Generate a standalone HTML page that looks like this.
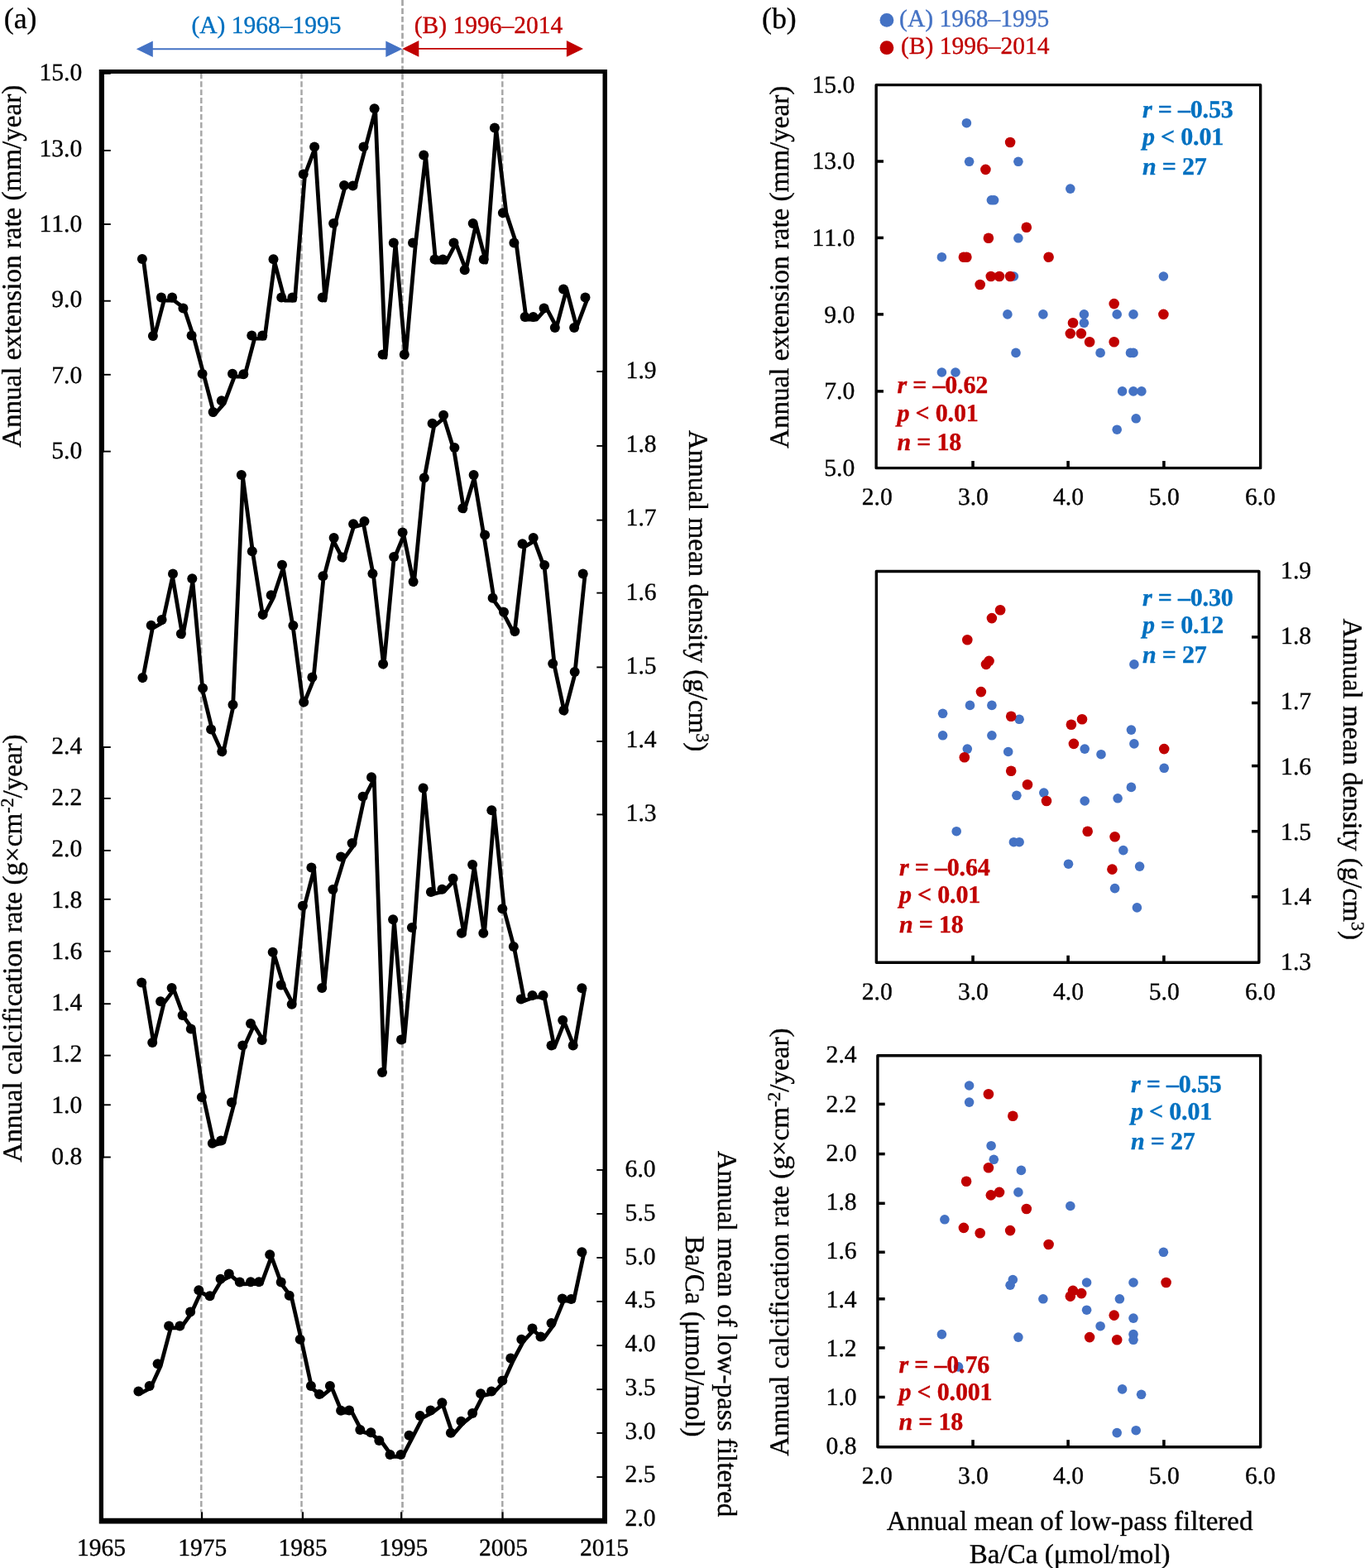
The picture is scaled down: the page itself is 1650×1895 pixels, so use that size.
<!DOCTYPE html>
<html lang="en">
<head>
<meta charset="utf-8">
<title>Coral growth and Ba/Ca time series</title>
<style>
html,body{margin:0;padding:0;background:#fff;}
body{width:1650px;height:1895px;overflow:hidden;}
svg{display:block;font-family:"Liberation Serif", "DejaVu Serif", serif;fill:#000;}
text{white-space:pre;font-kerning:none;font-variant-ligatures:none;stroke-width:0.35px;text-rendering:geometricPrecision;}
</style>
</head>
<body>
<svg role="img" aria-label="Coral growth parameters and Ba/Ca: time series and scatter plots" width="1650" height="1895" viewBox="0 0 1650 1895">
<rect width="1650" height="1895" fill="#fff"/>
<g id="panel-a">
<line x1="243.3" y1="88.3" x2="243.3" y2="1827.5" stroke="#A6A6A6" stroke-width="2.45" stroke-dasharray="6.92 2.998"/>
<line x1="364.5" y1="88.3" x2="364.5" y2="1827.5" stroke="#A6A6A6" stroke-width="2.45" stroke-dasharray="6.92 2.998"/>
<line x1="486.5" y1="0.05" x2="486.5" y2="1827.5" stroke="#A6A6A6" stroke-width="2.7" stroke-dasharray="6.92 2.998"/>
<line x1="607.3" y1="88.3" x2="607.3" y2="1827.5" stroke="#A6A6A6" stroke-width="2.45" stroke-dasharray="6.92 2.998"/>
<line x1="124" y1="88.85" x2="133.8" y2="88.85" stroke="#000" stroke-width="1.9"/>
<line x1="124" y1="181.9" x2="133.8" y2="181.9" stroke="#000" stroke-width="1.9"/>
<line x1="124" y1="271" x2="133.8" y2="271" stroke="#000" stroke-width="1.9"/>
<line x1="124" y1="363.7" x2="133.8" y2="363.7" stroke="#000" stroke-width="1.9"/>
<line x1="124" y1="452.8" x2="133.8" y2="452.8" stroke="#000" stroke-width="1.9"/>
<line x1="124" y1="545.6" x2="133.8" y2="545.6" stroke="#000" stroke-width="1.9"/>
<line x1="124" y1="903" x2="133.8" y2="903" stroke="#000" stroke-width="1.9"/>
<line x1="124" y1="964.9" x2="133.8" y2="964.9" stroke="#000" stroke-width="1.9"/>
<line x1="124" y1="1027.9" x2="133.8" y2="1027.9" stroke="#000" stroke-width="1.9"/>
<line x1="124" y1="1086.8" x2="133.8" y2="1086.8" stroke="#000" stroke-width="1.9"/>
<line x1="124" y1="1149.7" x2="133.8" y2="1149.7" stroke="#000" stroke-width="1.9"/>
<line x1="124" y1="1213.2" x2="133.8" y2="1213.2" stroke="#000" stroke-width="1.9"/>
<line x1="124" y1="1275.6" x2="133.8" y2="1275.6" stroke="#000" stroke-width="1.9"/>
<line x1="124" y1="1335.3" x2="133.8" y2="1335.3" stroke="#000" stroke-width="1.9"/>
<line x1="124" y1="1398.5" x2="133.8" y2="1398.5" stroke="#000" stroke-width="1.9"/>
<line x1="721.3" y1="449" x2="730" y2="449" stroke="#000" stroke-width="1.9"/>
<line x1="721.3" y1="538.9" x2="730" y2="538.9" stroke="#000" stroke-width="1.9"/>
<line x1="721.3" y1="628.6" x2="730" y2="628.6" stroke="#000" stroke-width="1.9"/>
<line x1="721.3" y1="716.6" x2="730" y2="716.6" stroke="#000" stroke-width="1.9"/>
<line x1="721.3" y1="806.4" x2="730" y2="806.4" stroke="#000" stroke-width="1.9"/>
<line x1="721.3" y1="896" x2="730" y2="896" stroke="#000" stroke-width="1.9"/>
<line x1="721.3" y1="984.4" x2="730" y2="984.4" stroke="#000" stroke-width="1.9"/>
<line x1="721.3" y1="1414" x2="730" y2="1414" stroke="#000" stroke-width="1.9"/>
<line x1="721.3" y1="1467" x2="730" y2="1467" stroke="#000" stroke-width="1.9"/>
<line x1="721.3" y1="1520" x2="730" y2="1520" stroke="#000" stroke-width="1.9"/>
<line x1="721.3" y1="1572.9" x2="730" y2="1572.9" stroke="#000" stroke-width="1.9"/>
<line x1="721.3" y1="1626.1" x2="730" y2="1626.1" stroke="#000" stroke-width="1.9"/>
<line x1="721.3" y1="1679.2" x2="730" y2="1679.2" stroke="#000" stroke-width="1.9"/>
<line x1="721.3" y1="1731.9" x2="730" y2="1731.9" stroke="#000" stroke-width="1.9"/>
<line x1="721.3" y1="1785.1" x2="730" y2="1785.1" stroke="#000" stroke-width="1.9"/>
<line x1="244" y1="1827.3" x2="244" y2="1836" stroke="#000" stroke-width="2.3"/>
<line x1="365.9" y1="1827.3" x2="365.9" y2="1836" stroke="#000" stroke-width="2.3"/>
<line x1="485.2" y1="1827.3" x2="485.2" y2="1836" stroke="#000" stroke-width="2.3"/>
<line x1="607.5" y1="1827.3" x2="607.5" y2="1836" stroke="#000" stroke-width="2.3"/>
<path d="M119.75 84H734V1841.6H119.75Z M125 88.9V1834.8H728.5V88.9Z" fill="#000" fill-rule="evenodd"/>
<path d="M124 88H126V546.6H124Z M124 902H126V1399.5H124Z M728 447.6H730V985.4H728Z M728 1413H730V1838H728Z" fill="#000"/>
<polyline points="173.84,317.15 186.01,409.19 198.18,363.17 210.34,363.17 222.51,372.37 234.68,409.19 246.85,455.21 259.02,501.23 271.18,487.42 283.35,455.21 295.52,455.21 307.69,409.19 319.86,409.19 332.02,317.15 344.19,363.17 356.36,363.17 368.53,211.3 380.7,179.09 392.86,363.17 405.03,271.13 417.2,225.11 429.37,225.11 441.54,179.09 453.7,133.07 465.87,432.2 478.04,294.14 490.21,432.2 502.38,294.14 514.54,188.29 526.71,317.15 538.88,317.15 551.05,294.14 563.22,326.35 575.38,271.13 587.55,317.15 599.72,156.08 611.89,257.32 624.06,294.14 636.22,386.18 648.39,386.18 660.56,372.37 672.73,395.38 684.9,349.36 697.06,395.38 709.23,363.17" fill="none" stroke="#000" stroke-width="4.8" stroke-linejoin="round" stroke-linecap="round"/>
<g fill="#000"><circle cx="171.9" cy="313" r="6"/><circle cx="184.9" cy="406" r="6"/><circle cx="194.9" cy="359.4" r="6"/><circle cx="208.1" cy="359.4" r="6"/><circle cx="221.4" cy="372.4" r="6"/><circle cx="231.6" cy="405.6" r="6"/><circle cx="244.6" cy="451.8" r="6"/><circle cx="257.6" cy="498" r="6"/><circle cx="267.8" cy="484.3" r="6"/><circle cx="281" cy="451.8" r="6"/><circle cx="294.3" cy="452.3" r="6"/><circle cx="304.3" cy="405.6" r="6"/><circle cx="317.2" cy="405.6" r="6"/><circle cx="330.5" cy="313.2" r="6"/><circle cx="340.2" cy="359.4" r="6"/><circle cx="353.4" cy="359.4" r="6"/><circle cx="366.7" cy="210.6" r="6"/><circle cx="380.1" cy="177.4" r="6"/><circle cx="389.7" cy="359.4" r="6"/><circle cx="403.1" cy="270" r="6"/><circle cx="416" cy="223.9" r="6"/><circle cx="426.5" cy="224.4" r="6"/><circle cx="439.5" cy="177.4" r="6"/><circle cx="452.6" cy="131.2" r="6"/><circle cx="462.6" cy="428.6" r="6"/><circle cx="475.8" cy="293.5" r="6"/><circle cx="488.8" cy="428.6" r="6"/><circle cx="499" cy="293.5" r="6"/><circle cx="512.2" cy="187.4" r="6"/><circle cx="525.5" cy="313.5" r="6"/><circle cx="535.3" cy="313.5" r="6"/><circle cx="548.5" cy="293.5" r="6"/><circle cx="561.7" cy="326.2" r="6"/><circle cx="571.7" cy="270" r="6"/><circle cx="584.7" cy="313.5" r="6"/><circle cx="597.9" cy="154.4" r="6"/><circle cx="607.9" cy="257.3" r="6"/><circle cx="621.4" cy="293.5" r="6"/><circle cx="634.6" cy="382.9" r="6"/><circle cx="644.6" cy="382.9" r="6"/><circle cx="657.6" cy="372.4" r="6"/><circle cx="670.8" cy="396.1" r="6"/><circle cx="681.1" cy="349.4" r="6"/><circle cx="694.1" cy="396.1" r="6"/><circle cx="707.5" cy="359.4" r="6"/></g>
<polyline points="172.16,822.7 184.31,759.3 196.46,752.5 208.62,697 220.77,769.5 232.92,702.9 245.07,835.4 257.22,885.1 269.38,911.8 281.53,855.4 293.68,577.7 305.83,669.9 317.98,746.3 330.14,722.8 342.29,686.3 354.44,759.5 366.59,852.2 378.74,822.2 390.9,699.8 403.05,653.6 415.2,677.1 427.35,636.9 439.5,633.6 451.66,696.9 463.81,806 475.96,676.5 488.11,647 500.26,706.6 512.42,581 524.57,515.3 536.72,505.3 548.87,544.5 561.02,617.9 573.18,577.7 585.33,650.1 597.48,726.3 609.63,743.3 621.78,766.5 633.94,660.9 646.09,653.6 658.24,686.6 670.39,805.7 682.54,862.1 694.7,815.7 706.85,697.1" fill="none" stroke="#000" stroke-width="4.8" stroke-linejoin="round" stroke-linecap="round"/>
<g fill="#000"><circle cx="172.4" cy="819.1" r="6"/><circle cx="182.7" cy="755.7" r="6"/><circle cx="195.6" cy="748.9" r="6"/><circle cx="209" cy="693.4" r="6"/><circle cx="218.9" cy="765.9" r="6"/><circle cx="232.3" cy="699.3" r="6"/><circle cx="245.1" cy="831.8" r="6"/><circle cx="255.1" cy="881.5" r="6"/><circle cx="268.3" cy="908.2" r="6"/><circle cx="281.5" cy="851.8" r="6"/><circle cx="291.8" cy="574.1" r="6"/><circle cx="304.8" cy="666.3" r="6"/><circle cx="317.7" cy="742.7" r="6"/><circle cx="327.7" cy="719.2" r="6"/><circle cx="341" cy="682.7" r="6"/><circle cx="354.4" cy="755.9" r="6"/><circle cx="367.2" cy="848.6" r="6"/><circle cx="377.4" cy="818.6" r="6"/><circle cx="390.4" cy="696.2" r="6"/><circle cx="403.6" cy="650" r="6"/><circle cx="413.6" cy="673.5" r="6"/><circle cx="427.1" cy="633.3" r="6"/><circle cx="440.5" cy="630" r="6"/><circle cx="450.4" cy="693.3" r="6"/><circle cx="463.1" cy="802.4" r="6"/><circle cx="476.1" cy="672.9" r="6"/><circle cx="486.6" cy="643.4" r="6"/><circle cx="499.6" cy="703" r="6"/><circle cx="512.8" cy="577.4" r="6"/><circle cx="522.6" cy="511.7" r="6"/><circle cx="536.1" cy="501.7" r="6"/><circle cx="549.4" cy="540.9" r="6"/><circle cx="559.3" cy="614.3" r="6"/><circle cx="572.6" cy="574.1" r="6"/><circle cx="586.1" cy="646.5" r="6"/><circle cx="595.6" cy="722.7" r="6"/><circle cx="609" cy="739.7" r="6"/><circle cx="622.3" cy="762.9" r="6"/><circle cx="631.5" cy="657.3" r="6"/><circle cx="644.7" cy="650" r="6"/><circle cx="658.2" cy="683" r="6"/><circle cx="668.2" cy="802.1" r="6"/><circle cx="681.4" cy="858.5" r="6"/><circle cx="694.7" cy="812.1" r="6"/><circle cx="704.7" cy="693.5" r="6"/></g>
<polyline points="173.85,1189.7 185.95,1262.1 198.06,1212.4 210.16,1196.1 222.27,1229.1 234.37,1245.8 246.47,1328.2 258.58,1383.9 270.68,1380.7 282.79,1334.5 294.89,1265.6 306.99,1239.1 319.1,1259.1 331.2,1152.9 343.31,1192.6 355.41,1215.9 367.51,1097 379.62,1050.8 391.72,1196.1 403.83,1077.3 415.93,1037.6 428.03,1021.1 440.14,964.9 452.24,941.4 464.35,1298.3 476.45,1113.5 488.55,1258.8 500.66,1123.2 512.76,954.7 524.87,1080.2 536.97,1077 549.07,1064 561.18,1129.9 573.28,1047.3 585.39,1129.9 597.49,981.4 609.59,1100.5 621.7,1146.2 633.8,1209.6 645.91,1205.1 658.01,1205.1 670.11,1265.8 682.22,1235.3 694.32,1265.8 706.43,1196.4" fill="none" stroke="#000" stroke-width="4.8" stroke-linejoin="round" stroke-linecap="round"/>
<g fill="#000"><circle cx="171.2" cy="1187.5" r="6"/><circle cx="184.2" cy="1259.9" r="6"/><circle cx="194.1" cy="1210.2" r="6"/><circle cx="207.6" cy="1193.9" r="6"/><circle cx="220.6" cy="1226.9" r="6"/><circle cx="230.8" cy="1243.6" r="6"/><circle cx="243.8" cy="1326" r="6"/><circle cx="256.8" cy="1381.7" r="6"/><circle cx="267.1" cy="1378.5" r="6"/><circle cx="280" cy="1332.3" r="6"/><circle cx="293.3" cy="1263.4" r="6"/><circle cx="303" cy="1236.9" r="6"/><circle cx="316.7" cy="1256.9" r="6"/><circle cx="329.7" cy="1150.7" r="6"/><circle cx="339.7" cy="1190.4" r="6"/><circle cx="352.7" cy="1213.7" r="6"/><circle cx="365.9" cy="1094.8" r="6"/><circle cx="376.4" cy="1048.6" r="6"/><circle cx="389.2" cy="1193.9" r="6"/><circle cx="402.4" cy="1075.1" r="6"/><circle cx="412.1" cy="1035.4" r="6"/><circle cx="425.6" cy="1018.9" r="6"/><circle cx="438.6" cy="962.7" r="6"/><circle cx="449" cy="939.2" r="6"/><circle cx="462" cy="1296.1" r="6"/><circle cx="475.1" cy="1111.3" r="6"/><circle cx="485" cy="1256.6" r="6"/><circle cx="497.9" cy="1121" r="6"/><circle cx="511.6" cy="952.5" r="6"/><circle cx="520.9" cy="1078" r="6"/><circle cx="534.4" cy="1074.8" r="6"/><circle cx="547.6" cy="1061.8" r="6"/><circle cx="557.9" cy="1127.7" r="6"/><circle cx="571.1" cy="1045.1" r="6"/><circle cx="584.3" cy="1127.7" r="6"/><circle cx="594.3" cy="979.2" r="6"/><circle cx="607.3" cy="1098.3" r="6"/><circle cx="620.8" cy="1144" r="6"/><circle cx="629.8" cy="1207.4" r="6"/><circle cx="643.5" cy="1202.9" r="6"/><circle cx="656.5" cy="1202.9" r="6"/><circle cx="666.5" cy="1263.6" r="6"/><circle cx="680.2" cy="1233.1" r="6"/><circle cx="692.7" cy="1263.6" r="6"/><circle cx="703.4" cy="1194.2" r="6"/></g>
<polyline points="169.83,1684 182.01,1677.3 194.19,1650.7 206.36,1604.8 218.54,1604.8 230.72,1588 242.9,1561.6 255.08,1568.6 267.25,1548.1 279.43,1541.8 291.61,1551.8 303.79,1551.6 315.97,1551.6 328.14,1518.6 340.32,1551.8 352.5,1568.1 364.68,1621.2 376.86,1677.4 389.03,1687.4 401.21,1677.3 413.39,1707.2 425.57,1706.9 437.75,1730.3 449.92,1733.6 462.1,1743.5 474.28,1760.3 486.46,1760.3 498.64,1737.1 510.81,1713.5 522.99,1706.9 535.17,1697.6 547.35,1734.1 559.53,1720.2 571.7,1710.4 583.88,1686.7 596.06,1683.9 608.24,1670.9 620.42,1644 632.59,1621.2 644.77,1607.8 656.95,1618 669.13,1601.3 681.31,1571.8 693.48,1572.3 705.66,1515.6" fill="none" stroke="#000" stroke-width="4.8" stroke-linejoin="round" stroke-linecap="round"/>
<g fill="#000"><circle cx="167.4" cy="1681.6" r="6"/><circle cx="180.7" cy="1674.9" r="6"/><circle cx="190.6" cy="1648.3" r="6"/><circle cx="204.1" cy="1602.4" r="6"/><circle cx="217.4" cy="1602.4" r="6"/><circle cx="230.1" cy="1585.6" r="6"/><circle cx="240.3" cy="1559.2" r="6"/><circle cx="253.6" cy="1566.2" r="6"/><circle cx="266.6" cy="1545.7" r="6"/><circle cx="276.8" cy="1539.4" r="6"/><circle cx="289.8" cy="1549.4" r="6"/><circle cx="303" cy="1549.2" r="6"/><circle cx="313" cy="1549.2" r="6"/><circle cx="326.2" cy="1516.2" r="6"/><circle cx="339.7" cy="1549.4" r="6"/><circle cx="349.7" cy="1565.7" r="6"/><circle cx="362.7" cy="1618.8" r="6"/><circle cx="375.9" cy="1675" r="6"/><circle cx="385.9" cy="1685" r="6"/><circle cx="398.9" cy="1674.9" r="6"/><circle cx="412.1" cy="1704.8" r="6"/><circle cx="422.1" cy="1704.5" r="6"/><circle cx="435.3" cy="1727.9" r="6"/><circle cx="448.3" cy="1731.2" r="6"/><circle cx="458.3" cy="1741.1" r="6"/><circle cx="471.5" cy="1757.9" r="6"/><circle cx="484.5" cy="1757.9" r="6"/><circle cx="494.5" cy="1734.7" r="6"/><circle cx="507.7" cy="1711.1" r="6"/><circle cx="520.5" cy="1704.5" r="6"/><circle cx="534.4" cy="1695.2" r="6"/><circle cx="544.9" cy="1731.7" r="6"/><circle cx="557.4" cy="1717.8" r="6"/><circle cx="571.1" cy="1708" r="6"/><circle cx="581.1" cy="1684.3" r="6"/><circle cx="594.1" cy="1681.5" r="6"/><circle cx="607.3" cy="1668.5" r="6"/><circle cx="617.3" cy="1641.6" r="6"/><circle cx="630.3" cy="1618.8" r="6"/><circle cx="643.5" cy="1605.4" r="6"/><circle cx="653.5" cy="1615.6" r="6"/><circle cx="666.5" cy="1598.9" r="6"/><circle cx="679.7" cy="1569.4" r="6"/><circle cx="690.4" cy="1569.9" r="6"/><circle cx="703.4" cy="1513.2" r="6"/></g>
<line x1="180" y1="59.2" x2="470" y2="59.2" stroke="#4472C4" stroke-width="1.9"/>
<path d="M164.8 59.2 L184.8 49.4 L184.8 69 Z" fill="#4472C4"/>
<path d="M486.3 59.2 L466.3 49.4 L466.3 69 Z" fill="#4472C4"/>
<line x1="500" y1="58.9" x2="690" y2="58.9" stroke="#C00000" stroke-width="1.9"/>
<path d="M486.3 58.9 L506.3 49.1 L506.3 68.7 Z" fill="#C00000"/>
<path d="M705 58.9 L684.9 49 L684.9 68.8 Z" fill="#C00000"/>
<text x="4.8" y="33.7" font-size="35.8" stroke="#000">(a)</text>
<text x="322" y="40" font-size="29.5" text-anchor="middle" stroke="#0070C0" fill="#0070C0">(A) 1968–1995</text>
<text x="590.5" y="40" font-size="29.5" text-anchor="middle" stroke="#C00000" fill="#C00000">(B) 1996–2014</text>
<text x="99.2" y="97.4" font-size="29.6" text-anchor="end" stroke="#000">15.0</text>
<text x="99.2" y="188.68" font-size="29.6" text-anchor="end" stroke="#000">13.0</text>
<text x="99.2" y="279.96" font-size="29.6" text-anchor="end" stroke="#000">11.0</text>
<text x="99.2" y="371.24" font-size="29.6" text-anchor="end" stroke="#000">9.0</text>
<text x="99.2" y="462.52" font-size="29.6" text-anchor="end" stroke="#000">7.0</text>
<text x="99.2" y="553.8" font-size="29.6" text-anchor="end" stroke="#000">5.0</text>
<text x="99.2" y="911" font-size="29.6" text-anchor="end" stroke="#000">2.4</text>
<text x="99.2" y="973.04" font-size="29.6" text-anchor="end" stroke="#000">2.2</text>
<text x="99.2" y="1035.08" font-size="29.6" text-anchor="end" stroke="#000">2.0</text>
<text x="99.2" y="1097.12" font-size="29.6" text-anchor="end" stroke="#000">1.8</text>
<text x="99.2" y="1159.16" font-size="29.6" text-anchor="end" stroke="#000">1.6</text>
<text x="99.2" y="1221.2" font-size="29.6" text-anchor="end" stroke="#000">1.4</text>
<text x="99.2" y="1283.24" font-size="29.6" text-anchor="end" stroke="#000">1.2</text>
<text x="99.2" y="1345.28" font-size="29.6" text-anchor="end" stroke="#000">1.0</text>
<text x="99.2" y="1407.32" font-size="29.6" text-anchor="end" stroke="#000">0.8</text>
<text x="756.6" y="457.2" font-size="29.6" stroke="#000">1.9</text>
<text x="756.6" y="546.3" font-size="29.6" stroke="#000">1.8</text>
<text x="756.6" y="635.4" font-size="29.6" stroke="#000">1.7</text>
<text x="756.6" y="724.5" font-size="29.6" stroke="#000">1.6</text>
<text x="756.6" y="813.6" font-size="29.6" stroke="#000">1.5</text>
<text x="756.6" y="902.7" font-size="29.6" stroke="#000">1.4</text>
<text x="756.6" y="991.8" font-size="29.6" stroke="#000">1.3</text>
<text x="755.6" y="1422.1" font-size="29.6" stroke="#000">6.0</text>
<text x="755.6" y="1474.85" font-size="29.6" stroke="#000">5.5</text>
<text x="755.6" y="1527.6" font-size="29.6" stroke="#000">5.0</text>
<text x="755.6" y="1580.35" font-size="29.6" stroke="#000">4.5</text>
<text x="755.6" y="1633.1" font-size="29.6" stroke="#000">4.0</text>
<text x="755.6" y="1685.85" font-size="29.6" stroke="#000">3.5</text>
<text x="755.6" y="1738.6" font-size="29.6" stroke="#000">3.0</text>
<text x="755.6" y="1791.35" font-size="29.6" stroke="#000">2.5</text>
<text x="755.6" y="1844.1" font-size="29.6" stroke="#000">2.0</text>
<text x="122.6" y="1879.7" font-size="29.5" text-anchor="middle" stroke="#000">1965</text>
<text x="244.8" y="1879.7" font-size="29.5" text-anchor="middle" stroke="#000">1975</text>
<text x="366" y="1879.7" font-size="29.5" text-anchor="middle" stroke="#000">1985</text>
<text x="487.8" y="1879.7" font-size="29.5" text-anchor="middle" stroke="#000">1995</text>
<text x="608.5" y="1879.7" font-size="29.5" text-anchor="middle" stroke="#000">2005</text>
<text x="730.4" y="1879.7" font-size="29.5" text-anchor="middle" stroke="#000">2015</text>
<text x="0" y="0" font-size="33.1" text-anchor="middle" stroke="#000" transform="translate(24.5 321.9) rotate(-90)">Annual extension rate (mm/year)</text>
<text x="0" y="0" font-size="33.1" text-anchor="middle" stroke="#000" transform="translate(25.6 1146) rotate(-90)">Annual calcification rate (g×cm<tspan font-size="22" dy="-9.8">-2</tspan><tspan dy="9.8">/year)</tspan></text>
<text x="0" y="0" font-size="33.1" text-anchor="middle" stroke="#000" transform="translate(832.7 714.1) rotate(90)">Annual mean density (g/cm<tspan font-size="22" dy="-9.8">3</tspan><tspan dy="9.8">)</tspan></text>
<text x="0" y="0" font-size="33.1" text-anchor="middle" stroke="#000" transform="translate(868.2 1612) rotate(90)">Annual mean of low-pass filtered</text>
<text x="0" y="0" font-size="33.1" text-anchor="middle" stroke="#000" transform="translate(828.6 1615.2) rotate(90)">Ba/Ca (μmol/mol)</text>
</g>
<g id="panel-b">
<text x="921" y="33.6" font-size="35.8" stroke="#000">(b)</text>
<circle cx="1071.9" cy="24.4" r="8.4" fill="#4472C4"/>
<circle cx="1071.9" cy="57.7" r="8.4" fill="#C00000"/>
<text x="1087.1" y="31.9" font-size="29.5" stroke="#4472C4" fill="#4472C4">(A) 1968–1995</text>
<text x="1089" y="64.9" font-size="29.5" stroke="#C00000" fill="#C00000">(B) 1996–2014</text>
<line x1="1059.15" y1="195" x2="1067.95" y2="195" stroke="#000" stroke-width="3.5"/>
<line x1="1059.15" y1="287.4" x2="1067.95" y2="287.4" stroke="#000" stroke-width="3.5"/>
<line x1="1059.15" y1="379.9" x2="1067.95" y2="379.9" stroke="#000" stroke-width="3.5"/>
<line x1="1059.15" y1="472.9" x2="1067.95" y2="472.9" stroke="#000" stroke-width="3.5"/>
<line x1="1176.05" y1="557.05" x2="1176.05" y2="565.65" stroke="#000" stroke-width="3.6"/>
<line x1="1291.1" y1="557.05" x2="1291.1" y2="565.65" stroke="#000" stroke-width="3.6"/>
<line x1="1406.9" y1="557.05" x2="1406.9" y2="565.65" stroke="#000" stroke-width="3.6"/>
<rect x="1059.15" y="102.65" width="464.5" height="463" fill="none" stroke="#000" stroke-width="3.4" stroke-linejoin="round"/>
<g fill="#4472C4"><circle cx="1168.4" cy="148.7" r="5.8"/><circle cx="1171.6" cy="195.3" r="5.8"/><circle cx="1230.9" cy="195.3" r="5.8"/><circle cx="1293.8" cy="228.1" r="5.8"/><circle cx="1198.4" cy="241.8" r="5.8"/><circle cx="1201.6" cy="241.8" r="5.8"/><circle cx="1230.9" cy="287.8" r="5.8"/><circle cx="1138.4" cy="310.7" r="5.8"/><circle cx="1225.4" cy="334" r="5.8"/><circle cx="1406.4" cy="334" r="5.8"/><circle cx="1217.9" cy="379.9" r="5.8"/><circle cx="1260.9" cy="379.9" r="5.8"/><circle cx="1310.4" cy="379.9" r="5.8"/><circle cx="1310.4" cy="390.3" r="5.8"/><circle cx="1350.2" cy="379.9" r="5.8"/><circle cx="1370" cy="379.9" r="5.8"/><circle cx="1228" cy="426.4" r="5.8"/><circle cx="1330.1" cy="426.4" r="5.8"/><circle cx="1366.5" cy="426.4" r="5.8"/><circle cx="1370" cy="426.4" r="5.8"/><circle cx="1138.4" cy="450" r="5.8"/><circle cx="1155" cy="450" r="5.8"/><circle cx="1356.6" cy="472.9" r="5.8"/><circle cx="1370" cy="472.9" r="5.8"/><circle cx="1379.9" cy="472.9" r="5.8"/><circle cx="1373.2" cy="505.8" r="5.8"/><circle cx="1350.2" cy="519.2" r="5.8"/></g>
<g fill="#C00000"><circle cx="1221.1" cy="172" r="6.3"/><circle cx="1191.4" cy="204.9" r="6.3"/><circle cx="1240.8" cy="274.7" r="6.3"/><circle cx="1194.9" cy="287.8" r="6.3"/><circle cx="1164.9" cy="310.7" r="6.3"/><circle cx="1168.4" cy="310.7" r="6.3"/><circle cx="1267.6" cy="310.7" r="6.3"/><circle cx="1197.8" cy="334" r="6.3"/><circle cx="1208" cy="334" r="6.3"/><circle cx="1221.1" cy="334" r="6.3"/><circle cx="1184.7" cy="344" r="6.3"/><circle cx="1346.7" cy="367.1" r="6.3"/><circle cx="1406.4" cy="379.9" r="6.3"/><circle cx="1297" cy="390.3" r="6.3"/><circle cx="1293.8" cy="403.1" r="6.3"/><circle cx="1306.9" cy="403.1" r="6.3"/><circle cx="1317.1" cy="413.3" r="6.3"/><circle cx="1346.7" cy="413.3" r="6.3"/></g>
<text x="1033.2" y="111.6" font-size="29.6" text-anchor="end" stroke="#000">15.0</text>
<text x="1033.2" y="204.24" font-size="29.6" text-anchor="end" stroke="#000">13.0</text>
<text x="1033.2" y="296.88" font-size="29.6" text-anchor="end" stroke="#000">11.0</text>
<text x="1033.2" y="389.52" font-size="29.6" text-anchor="end" stroke="#000">9.0</text>
<text x="1033.2" y="482.16" font-size="29.6" text-anchor="end" stroke="#000">7.0</text>
<text x="1033.2" y="574.8" font-size="29.6" text-anchor="end" stroke="#000">5.0</text>
<text x="1060.3" y="610.25" font-size="29.6" text-anchor="middle" stroke="#000">2.0</text>
<text x="1176.4" y="610.25" font-size="29.6" text-anchor="middle" stroke="#000">3.0</text>
<text x="1291.5" y="610.25" font-size="29.6" text-anchor="middle" stroke="#000">4.0</text>
<text x="1407.2" y="610.25" font-size="29.6" text-anchor="middle" stroke="#000">5.0</text>
<text x="1523.4" y="610.25" font-size="29.6" text-anchor="middle" stroke="#000">6.0</text>
<text x="1381" y="141.7" font-size="30" stroke="#0070C0" fill="#0070C0" font-weight="bold" letter-spacing="-0.2"><tspan font-style="italic">r</tspan> = –0.53</text>
<text x="1381" y="174.9" font-size="30" stroke="#0070C0" fill="#0070C0" font-weight="bold" letter-spacing="-0.2"><tspan font-style="italic">p</tspan> &lt; 0.01</text>
<text x="1381" y="210.8" font-size="30" stroke="#0070C0" fill="#0070C0" font-weight="bold" letter-spacing="-0.2"><tspan font-style="italic">n</tspan> = 27</text>
<text x="1084.5" y="475.3" font-size="30" stroke="#C00000" fill="#C00000" font-weight="bold" letter-spacing="-0.2"><tspan font-style="italic">r</tspan> = –0.62</text>
<text x="1084.5" y="508.5" font-size="30" stroke="#C00000" fill="#C00000" font-weight="bold" letter-spacing="-0.2"><tspan font-style="italic">p</tspan> &lt; 0.01</text>
<text x="1084.5" y="544.4" font-size="30" stroke="#C00000" fill="#C00000" font-weight="bold" letter-spacing="-0.2"><tspan font-style="italic">n</tspan> = 18</text>
<line x1="1513.05" y1="769.95" x2="1521.85" y2="769.95" stroke="#000" stroke-width="3.5"/>
<line x1="1513.05" y1="849.5" x2="1521.85" y2="849.5" stroke="#000" stroke-width="3.5"/>
<line x1="1513.05" y1="925.6" x2="1521.85" y2="925.6" stroke="#000" stroke-width="3.5"/>
<line x1="1513.05" y1="1004.7" x2="1521.85" y2="1004.7" stroke="#000" stroke-width="3.5"/>
<line x1="1513.05" y1="1083.8" x2="1521.85" y2="1083.8" stroke="#000" stroke-width="3.5"/>
<line x1="1176.05" y1="1154.7" x2="1176.05" y2="1163.3" stroke="#000" stroke-width="3.6"/>
<line x1="1291.1" y1="1154.7" x2="1291.1" y2="1163.3" stroke="#000" stroke-width="3.6"/>
<line x1="1406.9" y1="1154.7" x2="1406.9" y2="1163.3" stroke="#000" stroke-width="3.6"/>
<rect x="1059.35" y="690.45" width="462.5" height="472.85" fill="none" stroke="#000" stroke-width="3.4" stroke-linejoin="round"/>
<g fill="#4472C4"><circle cx="1370.9" cy="802.9" r="5.8"/><circle cx="1172.5" cy="852.4" r="5.8"/><circle cx="1198.9" cy="852.4" r="5.8"/><circle cx="1139.6" cy="862.3" r="5.8"/><circle cx="1232.1" cy="869.3" r="5.8"/><circle cx="1139.6" cy="888.8" r="5.8"/><circle cx="1198.9" cy="888.8" r="5.8"/><circle cx="1367.4" cy="882.1" r="5.8"/><circle cx="1370.9" cy="898.9" r="5.8"/><circle cx="1169.3" cy="905.1" r="5.8"/><circle cx="1218.7" cy="908.5" r="5.8"/><circle cx="1311.2" cy="905.1" r="5.8"/><circle cx="1331" cy="911.7" r="5.8"/><circle cx="1407.2" cy="928.3" r="5.8"/><circle cx="1367.4" cy="951.4" r="5.8"/><circle cx="1228.9" cy="961.3" r="5.8"/><circle cx="1261.8" cy="958.1" r="5.8"/><circle cx="1311.2" cy="968" r="5.8"/><circle cx="1351.1" cy="964.8" r="5.8"/><circle cx="1156.2" cy="1004.7" r="5.8"/><circle cx="1225.4" cy="1017.7" r="5.8"/><circle cx="1232.1" cy="1017.7" r="5.8"/><circle cx="1357.8" cy="1027.6" r="5.8"/><circle cx="1291.5" cy="1044.2" r="5.8"/><circle cx="1377.6" cy="1047.1" r="5.8"/><circle cx="1347.6" cy="1073.6" r="5.8"/><circle cx="1374.4" cy="1096.9" r="5.8"/></g>
<g fill="#C00000"><circle cx="1209.1" cy="737.2" r="6.3"/><circle cx="1198.9" cy="747.1" r="6.3"/><circle cx="1169.3" cy="773.3" r="6.3"/><circle cx="1195.5" cy="798.9" r="6.3"/><circle cx="1192" cy="802.9" r="6.3"/><circle cx="1185.9" cy="836.1" r="6.3"/><circle cx="1222.2" cy="865.8" r="6.3"/><circle cx="1308" cy="869.3" r="6.3"/><circle cx="1294.9" cy="875.7" r="6.3"/><circle cx="1297.9" cy="898.9" r="6.3"/><circle cx="1407.2" cy="905.1" r="6.3"/><circle cx="1165.8" cy="915.2" r="6.3"/><circle cx="1222.2" cy="931.8" r="6.3"/><circle cx="1242" cy="948.2" r="6.3"/><circle cx="1265" cy="968" r="6.3"/><circle cx="1314.7" cy="1004.7" r="6.3"/><circle cx="1347.6" cy="1011.3" r="6.3"/><circle cx="1344.4" cy="1050.6" r="6.3"/></g>
<text x="1548.1" y="698.9" font-size="29.6" stroke="#000">1.9</text>
<text x="1548.1" y="777.8" font-size="29.6" stroke="#000">1.8</text>
<text x="1548.1" y="856.7" font-size="29.6" stroke="#000">1.7</text>
<text x="1548.1" y="935.6" font-size="29.6" stroke="#000">1.6</text>
<text x="1548.1" y="1014.5" font-size="29.6" stroke="#000">1.5</text>
<text x="1548.1" y="1093.4" font-size="29.6" stroke="#000">1.4</text>
<text x="1548.1" y="1172.3" font-size="29.6" stroke="#000">1.3</text>
<text x="1060.3" y="1207.9" font-size="29.6" text-anchor="middle" stroke="#000">2.0</text>
<text x="1176.4" y="1207.9" font-size="29.6" text-anchor="middle" stroke="#000">3.0</text>
<text x="1291.5" y="1207.9" font-size="29.6" text-anchor="middle" stroke="#000">4.0</text>
<text x="1407.2" y="1207.9" font-size="29.6" text-anchor="middle" stroke="#000">5.0</text>
<text x="1523.4" y="1207.9" font-size="29.6" text-anchor="middle" stroke="#000">6.0</text>
<text x="1381" y="732" font-size="30" stroke="#0070C0" fill="#0070C0" font-weight="bold" letter-spacing="-0.2"><tspan font-style="italic">r</tspan> = –0.30</text>
<text x="1381" y="765.2" font-size="30" stroke="#0070C0" fill="#0070C0" font-weight="bold" letter-spacing="-0.2"><tspan font-style="italic">p</tspan> = 0.12</text>
<text x="1381" y="801.1" font-size="30" stroke="#0070C0" fill="#0070C0" font-weight="bold" letter-spacing="-0.2"><tspan font-style="italic">n</tspan> = 27</text>
<text x="1087" y="1058.2" font-size="30" stroke="#C00000" fill="#C00000" font-weight="bold" letter-spacing="-0.2"><tspan font-style="italic">r</tspan> = –0.64</text>
<text x="1087" y="1091.4" font-size="30" stroke="#C00000" fill="#C00000" font-weight="bold" letter-spacing="-0.2"><tspan font-style="italic">p</tspan> &lt; 0.01</text>
<text x="1087" y="1127.3" font-size="30" stroke="#C00000" fill="#C00000" font-weight="bold" letter-spacing="-0.2"><tspan font-style="italic">n</tspan> = 18</text>
<line x1="1060.9" y1="1334.4" x2="1069.7" y2="1334.4" stroke="#000" stroke-width="3.5"/>
<line x1="1060.9" y1="1394.6" x2="1069.7" y2="1394.6" stroke="#000" stroke-width="3.5"/>
<line x1="1060.9" y1="1454.3" x2="1069.7" y2="1454.3" stroke="#000" stroke-width="3.5"/>
<line x1="1060.9" y1="1513.3" x2="1069.7" y2="1513.3" stroke="#000" stroke-width="3.5"/>
<line x1="1060.9" y1="1569.8" x2="1069.7" y2="1569.8" stroke="#000" stroke-width="3.5"/>
<line x1="1060.9" y1="1628.9" x2="1069.7" y2="1628.9" stroke="#000" stroke-width="3.5"/>
<line x1="1060.9" y1="1688.5" x2="1069.7" y2="1688.5" stroke="#000" stroke-width="3.5"/>
<line x1="1176.05" y1="1740.15" x2="1176.05" y2="1748.75" stroke="#000" stroke-width="3.6"/>
<line x1="1291.1" y1="1740.15" x2="1291.1" y2="1748.75" stroke="#000" stroke-width="3.6"/>
<line x1="1406.9" y1="1740.15" x2="1406.9" y2="1748.75" stroke="#000" stroke-width="3.6"/>
<rect x="1060.9" y="1275.8" width="462.75" height="472.95" fill="none" stroke="#000" stroke-width="3.4" stroke-linejoin="round"/>
<g fill="#4472C4"><circle cx="1171.6" cy="1312" r="5.8"/><circle cx="1171.6" cy="1332.1" r="5.8"/><circle cx="1198.1" cy="1384.7" r="5.8"/><circle cx="1201.3" cy="1401.3" r="5.8"/><circle cx="1234.4" cy="1414.4" r="5.8"/><circle cx="1230.9" cy="1440.9" r="5.8"/><circle cx="1293.8" cy="1457.5" r="5.8"/><circle cx="1141.9" cy="1473.8" r="5.8"/><circle cx="1406.4" cy="1513.3" r="5.8"/><circle cx="1224.3" cy="1546.5" r="5.8"/><circle cx="1221.1" cy="1553.2" r="5.8"/><circle cx="1313.6" cy="1550" r="5.8"/><circle cx="1370" cy="1550" r="5.8"/><circle cx="1260.9" cy="1569.8" r="5.8"/><circle cx="1353.4" cy="1569.8" r="5.8"/><circle cx="1313.6" cy="1583.2" r="5.8"/><circle cx="1370" cy="1593.1" r="5.8"/><circle cx="1330.1" cy="1602.7" r="5.8"/><circle cx="1138.4" cy="1612.6" r="5.8"/><circle cx="1230.9" cy="1616.1" r="5.8"/><circle cx="1370" cy="1612.6" r="5.8"/><circle cx="1370" cy="1619.3" r="5.8"/><circle cx="1158.5" cy="1651.9" r="5.8"/><circle cx="1356.6" cy="1678.9" r="5.8"/><circle cx="1379.6" cy="1685.3" r="5.8"/><circle cx="1350.2" cy="1731.6" r="5.8"/><circle cx="1373.2" cy="1728.7" r="5.8"/></g>
<g fill="#C00000"><circle cx="1194.9" cy="1322.2" r="6.3"/><circle cx="1224.3" cy="1348.7" r="6.3"/><circle cx="1194.9" cy="1411.2" r="6.3"/><circle cx="1168.1" cy="1427.8" r="6.3"/><circle cx="1208" cy="1440.9" r="6.3"/><circle cx="1197.8" cy="1444.4" r="6.3"/><circle cx="1240.8" cy="1461" r="6.3"/><circle cx="1164.9" cy="1483.9" r="6.3"/><circle cx="1184.7" cy="1490.3" r="6.3"/><circle cx="1221.1" cy="1487.1" r="6.3"/><circle cx="1267.6" cy="1504" r="6.3"/><circle cx="1409.6" cy="1550" r="6.3"/><circle cx="1297" cy="1559.9" r="6.3"/><circle cx="1293.8" cy="1566.6" r="6.3"/><circle cx="1307.2" cy="1563.1" r="6.3"/><circle cx="1346.7" cy="1589.6" r="6.3"/><circle cx="1317.1" cy="1616.1" r="6.3"/><circle cx="1350.2" cy="1619.3" r="6.3"/></g>
<text x="1035.6" y="1284.4" font-size="29.6" text-anchor="end" stroke="#000">2.4</text>
<text x="1035.6" y="1343.51" font-size="29.6" text-anchor="end" stroke="#000">2.2</text>
<text x="1035.6" y="1402.62" font-size="29.6" text-anchor="end" stroke="#000">2.0</text>
<text x="1035.6" y="1461.73" font-size="29.6" text-anchor="end" stroke="#000">1.8</text>
<text x="1035.6" y="1520.84" font-size="29.6" text-anchor="end" stroke="#000">1.6</text>
<text x="1035.6" y="1579.95" font-size="29.6" text-anchor="end" stroke="#000">1.4</text>
<text x="1035.6" y="1639.06" font-size="29.6" text-anchor="end" stroke="#000">1.2</text>
<text x="1035.6" y="1698.17" font-size="29.6" text-anchor="end" stroke="#000">1.0</text>
<text x="1035.6" y="1757.28" font-size="29.6" text-anchor="end" stroke="#000">0.8</text>
<text x="1060.3" y="1793.35" font-size="29.6" text-anchor="middle" stroke="#000">2.0</text>
<text x="1176.4" y="1793.35" font-size="29.6" text-anchor="middle" stroke="#000">3.0</text>
<text x="1291.5" y="1793.35" font-size="29.6" text-anchor="middle" stroke="#000">4.0</text>
<text x="1407.2" y="1793.35" font-size="29.6" text-anchor="middle" stroke="#000">5.0</text>
<text x="1523.4" y="1793.35" font-size="29.6" text-anchor="middle" stroke="#000">6.0</text>
<text x="1367" y="1319.6" font-size="30" stroke="#0070C0" fill="#0070C0" font-weight="bold" letter-spacing="-0.2"><tspan font-style="italic">r</tspan> = –0.55</text>
<text x="1367" y="1352.8" font-size="30" stroke="#0070C0" fill="#0070C0" font-weight="bold" letter-spacing="-0.2"><tspan font-style="italic">p</tspan> &lt; 0.01</text>
<text x="1367" y="1388.7" font-size="30" stroke="#0070C0" fill="#0070C0" font-weight="bold" letter-spacing="-0.2"><tspan font-style="italic">n</tspan> = 27</text>
<text x="1086.5" y="1659.1" font-size="30" stroke="#C00000" fill="#C00000" font-weight="bold" letter-spacing="-0.2"><tspan font-style="italic">r</tspan> = –0.76</text>
<text x="1086.5" y="1692.3" font-size="30" stroke="#C00000" fill="#C00000" font-weight="bold" letter-spacing="-0.2"><tspan font-style="italic">p</tspan> &lt; 0.001</text>
<text x="1086.5" y="1728.2" font-size="30" stroke="#C00000" fill="#C00000" font-weight="bold" letter-spacing="-0.2"><tspan font-style="italic">n</tspan> = 18</text>
<text x="0" y="0" font-size="33.1" text-anchor="middle" stroke="#000" transform="translate(952.5 322.9) rotate(-90)">Annual extension rate (mm/year)</text>
<text x="0" y="0" font-size="33.1" text-anchor="middle" stroke="#000" transform="translate(1624.2 941.7) rotate(90)">Annual mean density (g/cm<tspan font-size="22" dy="-9.8">3</tspan><tspan dy="9.8">)</tspan></text>
<text x="0" y="0" font-size="33.1" text-anchor="middle" stroke="#000" transform="translate(952.8 1501.2) rotate(-90)">Annual calcification rate (g×cm<tspan font-size="22" dy="-9.8">-2</tspan><tspan dy="9.8">/year)</tspan></text>
<text x="1293.2" y="1849" font-size="33.1" text-anchor="middle" stroke="#000">Annual mean of low-pass filtered</text>
<text x="1293.2" y="1888.6" font-size="33.1" text-anchor="middle" stroke="#000">Ba/Ca (μmol/mol)</text>
</g>
</svg>
</body>
</html>
